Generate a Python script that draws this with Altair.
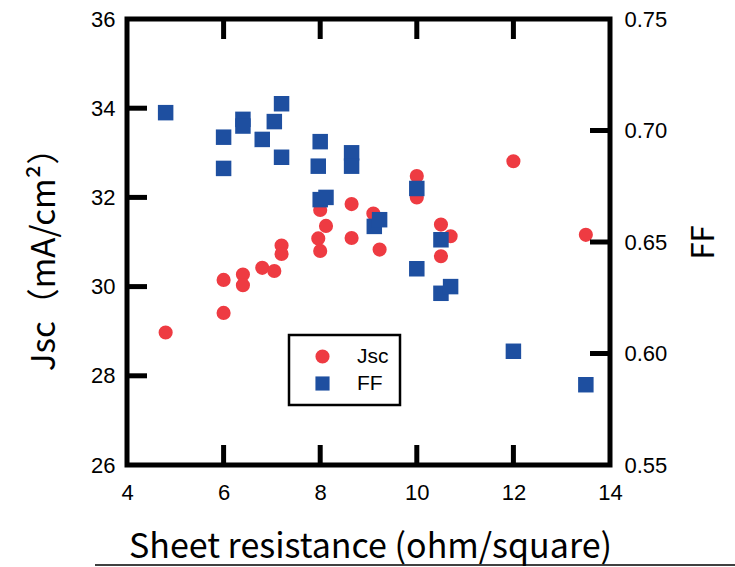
import altair as alt
import pandas as pd

# ---- data ----
jsc_x = [4.8, 6.0, 6.0, 6.4, 6.4, 6.8, 7.05, 7.2, 7.2, 8.0, 8.12, 7.96, 8.0,
         8.65, 8.65, 9.1, 9.23, 10.0, 10.0, 10.5, 10.7, 10.5, 12.0, 13.5]
jsc_y = [28.97, 30.15, 29.41, 30.27, 30.03, 30.42, 30.35, 30.92, 30.73, 31.72, 31.36, 31.08, 30.80,
         31.85, 31.09, 31.64, 30.83, 32.48, 32.00, 31.39, 31.13, 30.68, 32.81, 31.16]

ff_x = [4.8, 6.0, 6.0, 6.4, 6.4, 6.8, 7.05, 7.2, 7.2, 8.0, 7.96, 8.65, 8.65,
        8.0, 8.12, 9.12, 9.23, 10.0, 10.0, 10.5, 10.5, 10.7, 12.0, 13.5]
ff_y = [0.708, 0.697, 0.683, 0.705, 0.702, 0.696, 0.704, 0.712, 0.688, 0.695, 0.684, 0.690, 0.684,
        0.669, 0.670, 0.657, 0.660, 0.674, 0.638, 0.651, 0.627, 0.630, 0.601, 0.586]

series_names = ["Jsc", "FF"]
series_colors = ["#EE3B42", "#1E4FA0"]
series_shapes = ["circle", "square"]

x_labels = [4, 6, 8, 10, 12, 14]
x_inner_ticks = [6, 8, 10, 12]
jsc_labels = [26, 28, 30, 32, 34, 36]
jsc_inner_ticks = [28, 30, 32, 34]
ff_labels = [0.55, 0.60, 0.65, 0.70, 0.75]
ff_inner_ticks = [0.60, 0.65, 0.70]

W, H = 483, 446
TICK = 20

jsc_df = pd.DataFrame({"R": jsc_x, "v": jsc_y, "series": "Jsc"})
ff_df = pd.DataFrame({"R": ff_x, "v": ff_y, "series": "FF"})

x_scale = alt.Scale(domain=[4, 14], nice=False, zero=False)
jsc_scale = alt.Scale(domain=[26, 36], nice=False, zero=False)
ff_scale = alt.Scale(domain=[0.55, 0.75], nice=False, zero=False)

x_axis = alt.Axis(values=x_labels, ticks=False, domain=False, grid=False,
                  labelFlush=False, labelPadding=17, labelFontSize=22,
                  labelFont="Liberation Sans", labelColor="black",
                  title="Sheet resistance (ohm/square)", titleFont="Noto Sans CJK JP",
                  titleFontSize=34, titleFontWeight="normal", titleColor="black",
                  titleX=243, titleY=82, titleAlign="center", titleBaseline="middle")
jsc_axis = alt.Axis(values=jsc_labels, ticks=False, domain=False, grid=False,
                    labelFlush=False, labelPadding=12, labelFontSize=22,
                    labelFont="Liberation Sans", labelColor="black",
                    title="Jsc（mA/cm²）", titleFont="Noto Sans CJK JP",
                    titleFontSize=33, titleFontWeight="normal", titleColor="black",
                    titleAngle=270, titleX=-83, titleY=232,
                    titleAlign="center", titleBaseline="middle")
ff_axis = alt.Axis(orient="right", values=ff_labels, format=".2f", ticks=False,
                   domain=False, grid=False, labelFlush=False, labelPadding=14,
                   labelFontSize=22, labelFont="Liberation Sans", labelColor="black",
                   title="FF", titleFont="Noto Sans CJK JP", titleFontSize=31,
                   titleFontWeight="normal", titleColor="black",
                   titleAngle=270, titleX=94, titleY=223,
                   titleAlign="center", titleBaseline="middle")

color = alt.Color("series:N", scale=alt.Scale(domain=series_names, range=series_colors),
                  legend=alt.Legend(title=None, orient="none", legendX=162, legendY=316,
                                    strokeColor="black", padding=11, rowPadding=5,
                                    symbolSize=200, symbolOffset=12, labelOffset=24,
                                    labelFontSize=21, labelFont="Liberation Sans",
                                    labelColor="black", symbolStrokeWidth=0))
shape = alt.Shape("series:N", scale=alt.Scale(domain=series_names, range=series_shapes), legend=None)

jsc_points = alt.Chart(jsc_df).mark_point(filled=True, opacity=1, size=200, strokeWidth=0).encode(
    x=alt.X("R:Q", scale=x_scale, axis=x_axis),
    y=alt.Y("v:Q", scale=jsc_scale, axis=jsc_axis),
    color=color, shape=shape,
)

left_ticks = alt.Chart(pd.DataFrame({"t": jsc_inner_ticks})).mark_rule(color="black", strokeWidth=5).encode(
    y=alt.Y("t:Q", scale=jsc_scale, axis=jsc_axis), x=alt.value(0), x2=alt.value(TICK))

bottom_ticks = alt.Chart(pd.DataFrame({"t": x_inner_ticks})).mark_rule(color="black", strokeWidth=5).encode(
    x=alt.X("t:Q", scale=x_scale, axis=x_axis), y=alt.value(H), y2=alt.value(H - TICK))

top_ticks = alt.Chart(pd.DataFrame({"t": x_inner_ticks})).mark_rule(color="black", strokeWidth=5).encode(
    x=alt.X("t:Q", scale=x_scale, axis=x_axis), y=alt.value(0), y2=alt.value(TICK))

bottom_line = alt.Chart(pd.DataFrame({"t": [0]})).mark_rule(color="black", strokeWidth=1.5).encode(
    x=alt.value(-32), x2=alt.value(735 - 127), y=alt.value(546))

ff_points = alt.Chart(ff_df).mark_point(filled=True, opacity=1, size=240, strokeWidth=0).encode(
    x=alt.X("R:Q", scale=x_scale, axis=x_axis),
    y=alt.Y("v:Q", scale=ff_scale, axis=ff_axis),
    color=color, shape=shape,
)

right_ticks = alt.Chart(pd.DataFrame({"t": ff_inner_ticks})).mark_rule(color="black", strokeWidth=5).encode(
    y=alt.Y("t:Q", scale=ff_scale, axis=ff_axis), x=alt.value(W), x2=alt.value(W - TICK))

left = alt.layer(jsc_points, left_ticks, bottom_ticks, top_ticks, bottom_line)
right = alt.layer(ff_points, right_ticks)

chart = alt.layer(left, right).resolve_scale(y="independent").properties(
    width=W, height=H,
    padding={"left": 127, "top": 19, "right": 125, "bottom": 102},
    autosize=alt.AutoSizeParams(type="none"),
).configure_view(stroke="black", strokeWidth=5).configure_legend(strokeWidth=2.5)

chart.save("out.html", embed_options={"renderer": "svg", "actions": False})
